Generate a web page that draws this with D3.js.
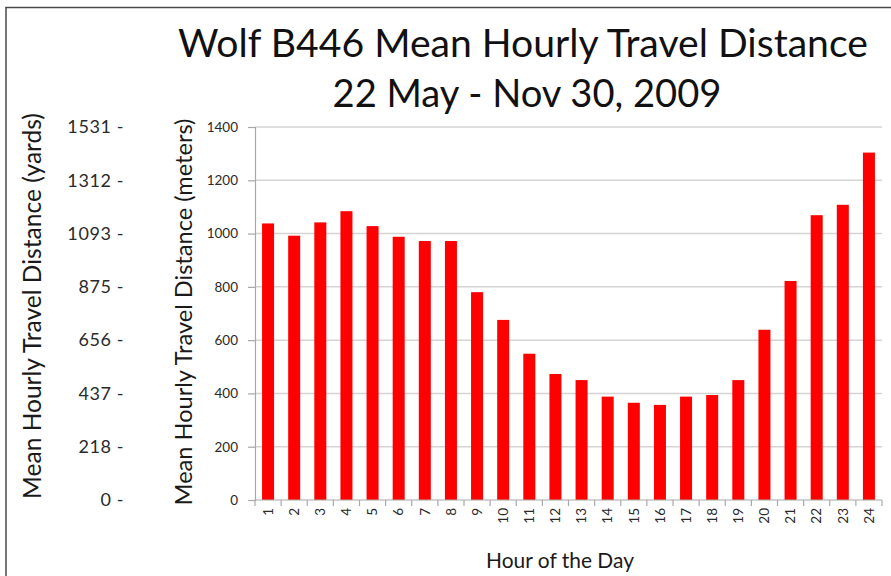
<!DOCTYPE html>
<html>
<head>
<meta charset="utf-8">
<script src="https://cdn.jsdelivr.net/npm/d3@7"></script>
<style>
  html, body { margin: 0; padding: 0; background: #fff; }
  svg { display: block; font-family: Lato, "Open Sans", sans-serif; }
</style>
</head>
<body>
<svg id="chart" width="891" height="576"></svg>
<script>
// ---- data ----
const hours = ["1","2","3","4","5","6","7","8","9","10","11","12","13","14","15","16","17","18","19","20","21","22","23","24"];
const meters = [1038, 992, 1042, 1084, 1028, 988, 972, 972, 780, 676, 549, 473, 450, 388, 365, 357, 388, 394, 450, 639, 822, 1069, 1108, 1304];
const meterTicks = [0, 200, 400, 600, 800, 1000, 1200, 1400];
const yardLabels = ["0 -", "218 -", "437 -", "656 -", "875 -", "1093 -", "1312 -", "1531 -"];
const titleLines = ["Wolf B446 Mean Hourly Travel Distance", "22 May - Nov 30, 2009"];

// ---- layout ----
const svg = d3.select("#chart");
const plot = { left: 255, right: 882, top: 127, bottom: 500 };

const x = d3.scaleBand().domain(hours).range([plot.left, plot.right]).paddingInner(0.54).paddingOuter(0.27);
const y = d3.scaleLinear().domain([0, 1400]).range([plot.bottom, plot.top]);

// frame
svg.append("line").attr("x1", 5.5).attr("x2", 891).attr("y1", 7.5).attr("y2", 7.5)
  .attr("stroke", "#4a4a4a").attr("stroke-width", 1.5);
svg.append("line").attr("x1", 6).attr("x2", 6).attr("y1", 7).attr("y2", 576)
  .attr("stroke", "#4a4a4a").attr("stroke-width", 1.5);

// gridlines
svg.append("g").selectAll("line").data(meterTicks.filter(d => d > 0)).join("line")
  .attr("x1", plot.left).attr("x2", plot.right)
  .attr("y1", d => y(d)).attr("y2", d => y(d))
  .attr("stroke", "#d4d4d4").attr("stroke-width", 1.5);

// bars
svg.append("g").selectAll("rect").data(meters).join("rect")
  .attr("x", (d, i) => x(hours[i]))
  .attr("width", x.bandwidth())
  .attr("y", d => y(d))
  .attr("height", d => y(0) - y(d))
  .attr("fill", "#ff0000");

// y axis (meters)
const yAxis = svg.append("g").attr("transform", `translate(${plot.left},0)`)
  .call(d3.axisLeft(y).tickValues(meterTicks).tickSize(7).tickPadding(10).tickFormat(d3.format("d")));
yAxis.select(".domain").attr("stroke", "#a8a8a8").attr("stroke-width", 1.2);
yAxis.selectAll(".tick line").attr("stroke", "#a8a8a8").attr("stroke-width", 1.2);
yAxis.selectAll(".tick text").attr("fill", "#2a2a2a").style("font-size", "13.5px").style("font-family", "Lato, sans-serif");

// x axis
const xAxisG = svg.append("g").attr("transform", `translate(0,${plot.bottom})`)
  .call(d3.axisBottom(x).tickSize(0).tickPadding(0));
xAxisG.select(".domain").remove();
xAxisG.append("line").attr("x1", plot.left).attr("x2", plot.right).attr("y1", 0).attr("y2", 0)
  .attr("stroke", "#a8a8a8").attr("stroke-width", 1.2);
// tick marks at band boundaries
const bounds = d3.range(hours.length + 1).map(i => plot.left + i * (plot.right - plot.left) / hours.length);
xAxisG.selectAll(".bound").data(bounds).join("line").attr("class", "bound")
  .attr("x1", d => d).attr("x2", d => d).attr("y1", 0).attr("y2", 6)
  .attr("stroke", "#a8a8a8").attr("stroke-width", 1.2);
xAxisG.selectAll(".tick text")
  .attr("transform", "rotate(-90)")
  .attr("text-anchor", "end")
  .attr("x", -8).attr("y", 0).attr("dy", "0.35em")
  .attr("fill", "#2a2a2a").style("font-size", "13.5px").style("font-family", "Lato, sans-serif");

// yards labels (secondary scale, same positions as meter ticks)
svg.append("g").selectAll("text").data(yardLabels).join("text")
  .attr("x", 124).attr("y", (d, i) => y(meterTicks[i]))
  .attr("dy", "0.35em").attr("text-anchor", "end")
  .attr("fill", "#2a2a2a").style("font-size", "18px").style("letter-spacing", "0.6px")
  .text(d => d);

// helper to fit text length
function fit(sel, target) {
  const len = sel.node().getComputedTextLength();
  const fs = parseFloat(sel.style("font-size"));
  sel.style("font-size", (fs * target / len).toFixed(2) + "px");
}

// axis titles
const yt1 = svg.append("text")
  .attr("transform", "translate(32,306) rotate(-90)")
  .attr("text-anchor", "middle").attr("dy", "0.35em")
  .attr("fill", "#1a1a1a").style("font-size", "19px")
  .text("Mean Hourly Travel Distance (yards)");
fit(yt1, 386);
const yt2 = svg.append("text")
  .attr("transform", "translate(184,312) rotate(-90)")
  .attr("text-anchor", "middle").attr("dy", "0.35em")
  .attr("fill", "#1a1a1a").style("font-size", "19px")
  .text("Mean Hourly Travel Distance (meters)");
fit(yt2, 387);

const xt = svg.append("text")
  .attr("x", 560).attr("y", 568).attr("text-anchor", "middle")
  .attr("fill", "#1a1a1a").style("font-size", "20px")
  .text("Hour of the Day");
fit(xt, 148);

// title
const t1 = svg.append("text").attr("x", 523).attr("y", 57).attr("text-anchor", "middle")
  .attr("fill", "#111").style("font-size", "34px").text(titleLines[0]);
fit(t1, 690);
const t2 = svg.append("text").attr("x", 527).attr("y", 107).attr("text-anchor", "middle")
  .attr("fill", "#111").style("font-size", "34px").text(titleLines[1]);
fit(t2, 389);
</script>
</body>
</html>
